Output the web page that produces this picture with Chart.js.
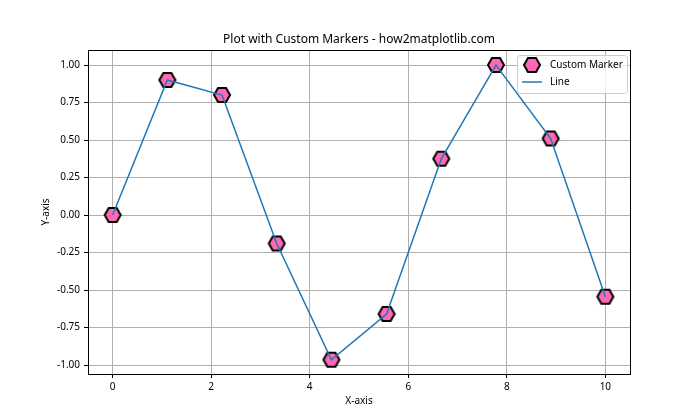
<!DOCTYPE html>
<html>
<head>
<meta charset="utf-8">
<script src="https://cdn.jsdelivr.net/npm/chart.js@4.4.1/dist/chart.umd.min.js"></script>
<style>
  html, body { margin: 0; padding: 0; background: #fff; }
  #c { display: block; }
</style>
</head>
<body>
<canvas id="c" width="700" height="420"></canvas>
<script>
// values
const xVals = [0, 1.11, 2.22, 3.33, 4.44, 5.56, 6.67, 7.78, 8.89, 10];
const yVals = [0, 0.90, 0.80, -0.19, -0.965, -0.66, 0.375, 1.0, 0.51, -0.545];
const xTicks = [0, 2, 4, 6, 8, 10];
const yTicks = [-1, -0.75, -0.5, -0.25, 0, 0.25, 0.5, 0.75, 1];

const FONT = "'Noto Sans', sans-serif";
const pink = "#ff69b4";
const blue = "#1f77b4";

// hexagon marker (flat top, pointy sides)
function hexPath(ctx, cx, cy, r) {
  ctx.beginPath();
  for (let i = 0; i < 6; i++) {
    const a = Math.PI / 3 * i;
    const px = cx + r * Math.cos(a), py = cy + r * Math.sin(a);
    if (i === 0) ctx.moveTo(px, py); else ctx.lineTo(px, py);
  }
  ctx.closePath();
}
function makeHex(r) {
  const cv = document.createElement("canvas");
  const s = Math.ceil(r * 2 + 4);
  cv.width = s; cv.height = s;
  const g = cv.getContext("2d");
  hexPath(g, s / 2, s / 2, r);
  g.fillStyle = pink;
  g.fill();
  g.lineWidth = 2;
  g.strokeStyle = "#000";
  g.lineJoin = "miter";
  g.stroke();
  return cv;
}
const hexImg = makeHex(8);

const points = xVals.map((x, i) => ({ x: x, y: yVals[i] }));

const extras = {
  id: "extras",
  afterDraw(chart) {
    const ctx = chart.ctx;
    const a = chart.chartArea;
    ctx.save();
    // frame
    ctx.strokeStyle = "#000";
    ctx.lineWidth = 1;
    ctx.strokeRect(Math.round(a.left) + 0.5, Math.round(a.top) + 0.5,
      Math.round(a.right - a.left), Math.round(a.bottom - a.top));
    // title and axis labels
    ctx.fillStyle = "#000";
    ctx.textAlign = "center";
    ctx.textBaseline = "middle";
    ctx.font = "12px " + FONT;
    ctx.fillText("Plot with Custom Markers - how2matplotlib.com", (a.left + a.right) / 2, 40);
    ctx.font = "10px " + FONT;
    ctx.fillText("X-axis", (a.left + a.right) / 2, 401);
    ctx.save();
    ctx.translate(46, (a.top + a.bottom) / 2);
    ctx.rotate(-Math.PI / 2);
    ctx.fillText("Y-axis", 0, 0);
    ctx.restore();
    // legend
    const lx = 517, ly = 55, lw = 110, lh = 38;
    ctx.beginPath();
    ctx.roundRect(lx + 0.5, ly + 0.5, lw, lh, 3);
    ctx.fillStyle = "rgba(255,255,255,0.8)";
    ctx.fill();
    ctx.strokeStyle = "#cccccc";
    ctx.stroke();
    ctx.drawImage(hexImg, 532 - hexImg.width / 2, 65 - hexImg.height / 2);
    ctx.strokeStyle = blue;
    ctx.lineWidth = 1.5;
    ctx.beginPath();
    ctx.moveTo(522, 82);
    ctx.lineTo(542, 82);
    ctx.stroke();
    ctx.fillStyle = "#000";
    ctx.textAlign = "left";
    ctx.font = "10px " + FONT;
    ctx.fillText(chart.data.datasets[0].label, 550, 65);
    ctx.fillText(chart.data.datasets[1].label, 550, 82);
    ctx.restore();
  }
};

new Chart(document.getElementById("c").getContext("2d"), {
  type: "scatter",
  data: {
    datasets: [
      {
        label: "Custom Marker",
        data: points,
        showLine: false,
        pointStyle: hexImg,
        pointRadius: 8,
        order: 1
      },
      {
        label: "Line",
        data: points,
        showLine: true,
        borderColor: blue,
        borderWidth: 1.5,
        pointRadius: 0,
        fill: false,
        tension: 0,
        order: 0
      }
    ]
  },
  options: {
    responsive: false,
    animation: false,
    layout: { padding: { left: 0, right: 70, top: 50, bottom: 0 } },
    plugins: {
      legend: { display: false },
      title: { display: false },
      tooltip: { enabled: false }
    },
    scales: {
      x: {
        type: "linear",
        min: -0.5,
        max: 10.5,
        afterBuildTicks: (s) => { s.ticks = xTicks.map(v => ({ value: v })); },
        afterFit: (s) => { s.height = 46; },
        grid: { color: "#b0b0b0", lineWidth: 1, tickColor: "#000", tickLength: 4 },
        border: { display: false },
        ticks: { color: "#000", font: { family: FONT, size: 10 }, padding: 3, maxRotation: 0 }
      },
      y: {
        type: "linear",
        min: -1.06,
        max: 1.1,
        afterBuildTicks: (s) => { s.ticks = yTicks.map(v => ({ value: v })); },
        afterFit: (s) => { s.width = 88; },
        grid: { color: "#b0b0b0", lineWidth: 1, tickColor: "#000", tickLength: 4 },
        border: { display: false },
        ticks: {
          color: "#000",
          font: { family: FONT, size: 10 },
          padding: 4,
          callback: (v) => v.toFixed(2)
        }
      }
    }
  },
  plugins: [extras]
});
</script>
</body>
</html>
